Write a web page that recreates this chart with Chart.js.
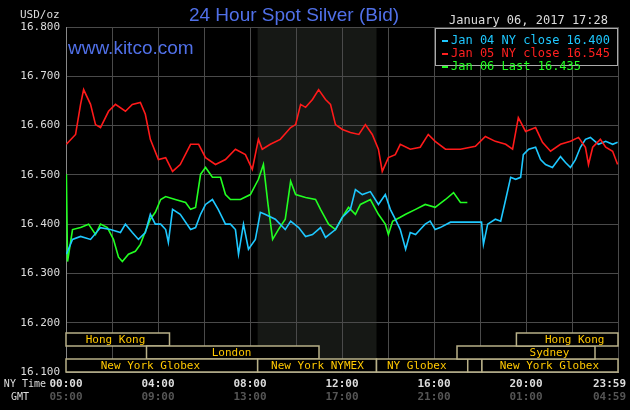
<!DOCTYPE html>
<html><head><meta charset="utf-8">
<script src="https://cdn.jsdelivr.net/npm/chart.js@4"></script>
<style>html,body{margin:0;padding:0;background:#000}#c{display:block}</style>
</head><body>
<div style="width:630px;height:410px"><canvas id="c" width="630" height="410"></canvas></div>
<script>
// minutes after 00:00 NY time
const redT = [1,25,38,46,64,77,90,111,129,155,173,194,207,220,241,260,278,298,325,346,364,390,416,442,468,486,502,512,533,559,586,599,612,625,643,659,677,690,703,721,742,764,781,799,815,825,841,859,872,898,924,945,963,990,1029,1068,1094,1120,1147,1165,1180,1199,1225,1243,1264,1290,1316,1337,1355,1363,1374,1394,1408,1426,1439];
const redV = [16.562,16.582,16.643,16.673,16.643,16.602,16.596,16.629,16.643,16.629,16.643,16.647,16.623,16.572,16.531,16.535,16.507,16.521,16.562,16.562,16.535,16.521,16.531,16.552,16.541,16.511,16.572,16.552,16.562,16.572,16.596,16.602,16.643,16.637,16.653,16.673,16.653,16.643,16.602,16.592,16.586,16.582,16.602,16.582,16.552,16.507,16.535,16.541,16.562,16.552,16.556,16.582,16.568,16.552,16.552,16.558,16.578,16.568,16.562,16.552,16.616,16.588,16.596,16.566,16.548,16.562,16.568,16.576,16.556,16.521,16.556,16.572,16.556,16.548,16.521];
const blueT = [1,17,38,64,90,116,142,155,173,189,207,220,233,247,260,267,278,298,325,338,351,364,382,397,416,429,442,450,463,476,494,507,519,546,572,586,607,625,643,664,677,703,721,742,755,773,794,815,833,846,859,872,886,898,912,924,937,950,963,976,1003,1055,1084,1089,1100,1120,1134,1147,1160,1173,1186,1193,1207,1225,1238,1251,1269,1290,1303,1316,1329,1342,1355,1368,1389,1408,1426,1439];
const blueV = [16.339,16.369,16.375,16.369,16.393,16.389,16.383,16.400,16.383,16.369,16.383,16.420,16.400,16.400,16.389,16.363,16.430,16.420,16.389,16.393,16.420,16.440,16.450,16.430,16.400,16.400,16.389,16.339,16.400,16.349,16.369,16.424,16.420,16.410,16.389,16.406,16.393,16.375,16.379,16.393,16.373,16.389,16.414,16.430,16.470,16.460,16.466,16.440,16.460,16.430,16.410,16.389,16.349,16.383,16.379,16.389,16.400,16.406,16.389,16.393,16.404,16.404,16.404,16.359,16.400,16.410,16.406,16.450,16.495,16.491,16.495,16.541,16.552,16.556,16.531,16.521,16.515,16.537,16.525,16.515,16.531,16.556,16.572,16.576,16.562,16.568,16.562,16.566];
const greenT = [1,4,17,38,59,77,90,108,124,137,147,163,181,194,207,220,233,247,260,285,312,325,338,351,364,382,403,416,429,455,481,502,515,527,539,554,572,586,599,625,651,664,685,703,721,737,755,768,794,815,833,841,852,872,886,912,937,963,990,1011,1029,1047];
const greenV = [16.501,16.324,16.389,16.393,16.400,16.379,16.400,16.393,16.369,16.333,16.324,16.339,16.345,16.359,16.385,16.410,16.424,16.450,16.456,16.450,16.444,16.430,16.434,16.501,16.515,16.495,16.495,16.460,16.450,16.450,16.460,16.491,16.521,16.440,16.369,16.389,16.410,16.487,16.460,16.454,16.450,16.430,16.400,16.389,16.414,16.434,16.420,16.440,16.450,16.420,16.400,16.379,16.406,16.414,16.420,16.430,16.440,16.434,16.450,16.464,16.444,16.444];
const yTicks = [16.1,16.2,16.3,16.4,16.5,16.6,16.7,16.8];
const nyLabels = [[0,'00:00'],[240,'04:00'],[480,'08:00'],[720,'12:00'],[960,'16:00'],[1200,'20:00'],[1439,'23:59']];
const gmtLabels = ['05:00','09:00','13:00','17:00','21:00','01:00','04:59'];
const sessions = [ // [start,end,row,label,textCenter]
 [0,270,2,'Hong Kong',129],[210,660,1,'London',432],[0,500,0,'New York Globex',220],
 [500,810,0,'New York NYMEX',656],[810,1048,0,'NY Globex',915],[1048,1085,0,'',null],
 [1085,1440,0,'New York Globex',1261],[1020,1380,1,'Sydney',1261],[1175,1440,2,'Hong Kong',1327]];
const legendItems = [['Jan 04 NY close 16.400','#1ec8ff'],['Jan 05 NY close 16.545','#ff2020'],['Jan 06 Last 16.435','#22ff22']];
const mk=(t,v)=>t.map((x,i)=>({x,y:v[i]}));
const mono='"DejaVu Sans Mono", monospace';
const plug={id:'kitco',
 beforeDraw(c){const g=c.ctx;g.save();g.fillStyle='#000';g.fillRect(0,0,c.width,c.height);
  const x=c.scales.x,a=c.chartArea;g.fillStyle='#161815';g.fillRect(x.getPixelForValue(500),a.top,x.getPixelForValue(810)-x.getPixelForValue(500),a.bottom-a.top);g.restore();},
 afterDatasetsDraw(c){const g=c.ctx,x=c.scales.x,a=c.chartArea;g.save();
  g.font='11px '+mono;g.textAlign='center';g.textBaseline='middle';
  sessions.forEach(s=>{const x0=x.getPixelForValue(s[0]),x1=x.getPixelForValue(s[1]);const y0=a.bottom-13*(s[2]+1);
   g.fillStyle='#000';g.fillRect(x0,y0,x1-x0,13);g.strokeStyle='#b8b088';g.lineWidth=1.5;g.strokeRect(x0,y0,x1-x0,13);
   if(s[3]){g.fillStyle='#ffc800';g.fillText(s[3],x.getPixelForValue(s[4]),y0+7);}});
  g.fillStyle='#000';g.fillRect(435,28,183,38);g.strokeStyle='#aaa';g.lineWidth=1;g.strokeRect(435.5,28.5,182,37);
  g.textAlign='left';g.font='12px '+mono;
  legendItems.forEach((l,i)=>{const yy=41+i*13;g.fillStyle=l[1];g.fillRect(442,yy-1,6,2);g.fillText(l[0],451,yy);});
  g.restore();},
 afterDraw(c){const g=c.ctx,x=c.scales.x;g.save();g.textBaseline='middle';
  g.fillStyle='#5070e8';g.textAlign='center';
  g.font='19px "Liberation Sans", Arial, sans-serif';g.fillText('24 Hour Spot Silver (Bid)',294,16);
  g.textAlign='left';g.font='19px "Liberation Sans", Arial, sans-serif';g.fillText('www.kitco.com',68,49);
  g.font='11px '+mono;g.fillStyle='#ddd';g.fillText('USD/oz',20,15);
  g.textAlign='right';g.font='12px '+mono;g.fillText('January 06, 2017 17:28',608,21);
  g.font='10px '+mono;g.fillText('NY Time',46,384);g.fillText('GMT',29,397);
  g.font='bold 11px '+mono;
  nyLabels.forEach((l,i)=>{const px=x.getPixelForValue(l[0]);g.textAlign=i==6?'right':'center';const xx=i==6?626:px;
   g.fillStyle='#ddd';g.fillText(l[1],xx,384);g.fillStyle='#555';g.fillText(gmtLabels[i],xx,397);});
  g.restore();}};
const ds=(d,c)=>({data:d,borderColor:c,borderWidth:1.6,pointRadius:0,tension:0,fill:false});
new Chart(document.getElementById('c'),{type:'line',
 data:{datasets:[ds(mk(redT,redV),'#ff1a1a'),ds(mk(blueT,blueV),'#1ec8ff'),ds(mk(greenT,greenV),'#22ff22')]},
 options:{responsive:false,animation:false,events:[],layout:{padding:{top:27,right:12,left:0,bottom:0}},
  plugins:{legend:{display:false},tooltip:{enabled:false}},
  scales:{
   x:{type:'linear',min:0,max:1440,afterFit:s=>{s.height=38;},
    afterBuildTicks:s=>{s.ticks=[];for(let m=0;m<=1440;m+=120)s.ticks.push({value:m});},
    grid:{color:'#4a4a4a',lineWidth:1,drawTicks:false},border:{color:'#888'},ticks:{display:false}},
   y:{min:16.1,max:16.8,afterFit:s=>{s.width=66;},
    afterBuildTicks:s=>{s.ticks=yTicks.map(v=>({value:v}));},
    grid:{color:'#4a4a4a',drawTicks:false},border:{color:'#888'},
    ticks:{color:'#ddd',padding:6,font:{family:'DejaVu Sans Mono',size:11},callback:v=>v.toFixed(3)}}}},
 plugins:[plug]});
</script></body></html>
